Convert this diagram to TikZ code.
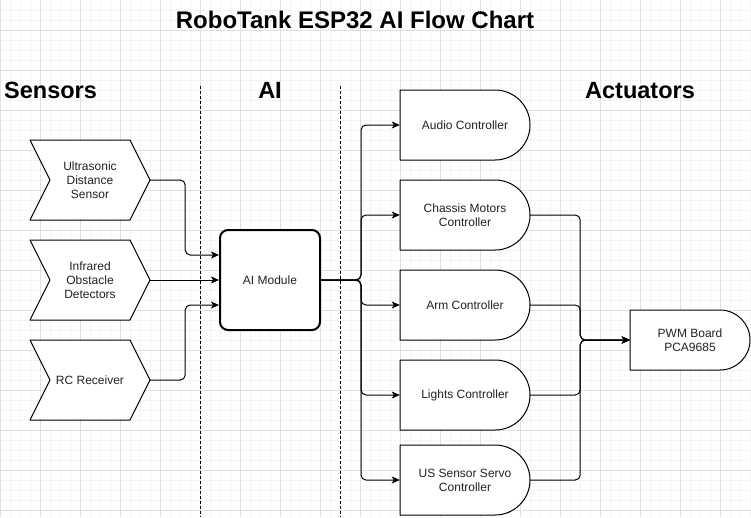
\documentclass[tikz,border=0pt]{standalone}
\usepackage{fontspec}
\setmainfont{Liberation Sans}
\usetikzlibrary{arrows.meta,calc}
\definecolor{gridminor}{HTML}{F4F4F4}
\definecolor{gridmajor}{HTML}{E0E0E0}
\definecolor{txtcol}{HTML}{222222}
\newcommand\dlybox[6]{%
  \pgfmathsetmacro\dXa{#2-#4/2}\pgfmathsetmacro\dXb{#2+#4/2}%
  \pgfmathsetmacro\dYa{#3-#5/2}\pgfmathsetmacro\dYb{#3+#5/2}%
  \pgfmathsetmacro\dRr{#5/2}%
  \pgfmathsetmacro\dXc{\dXb-\dRr}\pgfmathsetmacro\dXk{\dXc+0.5523*\dRr}%
  \pgfmathsetmacro\dYk{#3-0.5523*\dRr}\pgfmathsetmacro\dYl{#3+0.5523*\dRr}%
  \draw[outline] (\dXa,\dYa) -- (\dXc,\dYa) .. controls (\dXk,\dYa) and (\dXb,\dYk) .. (\dXb,#3) .. controls (\dXb,\dYl) and (\dXk,\dYb) .. (\dXc,\dYb) -- (\dXa,\dYb) -- cycle;
  \node[txt, minimum width=#4pt, minimum height=#5pt] (#1) at (#2,#3) {#6};
}
\newcommand\chevbox[6]{%
  \pgfmathsetmacro\cXa{#2-#4/2}\pgfmathsetmacro\cXb{#2+#4/2}%
  \pgfmathsetmacro\cYa{#3-#5/2}\pgfmathsetmacro\cYb{#3+#5/2}%
  \pgfmathsetmacro\cXc{\cXb-20}\pgfmathsetmacro\cXd{\cXa+20}%
  \draw[outline] (\cXa,\cYa) -- (\cXc,\cYa) -- (\cXb,#3) -- (\cXc,\cYb) -- (\cXa,\cYb) -- (\cXd,#3) -- cycle;
  \node[txt, minimum width=#4pt, minimum height=#5pt] (#1) at (#2,#3) {#6};
}
\begin{document}
\begin{tikzpicture}[x=1pt,y=-1pt,
  txt/.style={font=\fontsize{12}{14}\selectfont, text=txtcol, align=center, inner sep=0pt},
  head/.style={font=\fontsize{23.5}{28}\selectfont\bfseries, inner sep=0pt},
  outline/.style={draw=black, line width=1pt, fill=white, line join=round},
  conn/.style={line width=1pt, rounded corners=5pt, -{Stealth[length=8pt,width=7pt,inset=2pt]}},
  sep/.style={line width=1pt, dash pattern=on 3pt off 2pt},
]
\useasboundingbox (0,0) rectangle (751,517);
\fill[white] (0,0) rectangle (751,517);
% grid
\foreach \i in {10,20,...,750} \draw[gridminor, line width=1pt] (\i,0) -- (\i,517);
\foreach \j in {10,20,...,510} \draw[gridminor, line width=1pt] (0,\j) -- (751,\j);
\foreach \i in {0,40,...,720} \draw[gridmajor, line width=1pt] (\i,0) -- (\i,517);
\foreach \j in {30,70,...,510} \draw[gridmajor, line width=1pt] (0,\j) -- (751,\j);

% headings
\node[head, font=\fontsize{24}{28}\selectfont\bfseries, anchor=base] (title) at (355,28) {RoboTank ESP32 AI Flow Chart};
\node[head, anchor=base west] (hsens) at (4,98) {Sensors};
\node[head, anchor=base] (hai) at (270,98) {AI};
\node[head, anchor=base] (hact) at (640,98) {Actuators};

% separators
\draw[sep] (200,86) -- (200,517);
\draw[sep] (340,86) -- (340,517);

% sensors
\chevbox{us}{90}{180}{120}{80}{Ultrasonic\\Distance\\Sensor}
\chevbox{ir}{90}{280}{120}{80}{Infrared\\Obstacle\\Detectors}
\chevbox{rc}{90}{380}{120}{80}{RC Receiver}

% AI module
\node[txt, draw=black, line width=2pt, rounded corners=8pt, fill=white, minimum width=100pt, minimum height=100pt] (ai) at (270,280) {AI Module};

% actuators
\dlybox{audio}{465}{125}{130}{70}{Audio Controller}
\dlybox{chassis}{465}{215}{130}{70}{Chassis Motors\\Controller}
\dlybox{arm}{465}{305}{130}{70}{Arm Controller}
\dlybox{lights}{465}{395}{130}{70}{Lights Controller}
\dlybox{servo}{465}{480}{130}{70}{US Sensor Servo\\Controller}
\dlybox{pwm}{690}{340}{120}{60}{PWM Board\\PCA9685}

% connectors sensors -> AI
\draw[conn] (us.east) -- ++(35,0) |- ([yshift=25pt]ai.west);
\draw[conn] (ir.east) -- (ai.west);
\draw[conn] (rc.east) -- ++(35,0) |- ([yshift=-25pt]ai.west);

% AI -> actuators
\draw[conn] (ai.east) -- ++(40,0) |- (audio.west);
\draw[conn] (ai.east) -- ++(40,0) |- (chassis.west);
\draw[conn] (ai.east) -- ++(40,0) |- (arm.west);
\draw[conn] (ai.east) -- ++(40,0) |- (lights.west);
\draw[conn] (ai.east) -- ++(40,0) |- (servo.west);

% actuators -> PWM
\draw[conn] (chassis.east) -- ++(50,0) |- (pwm.west);
\draw[conn] (arm.east) -- ++(50,0) |- (pwm.west);
\draw[conn] (lights.east) -- ++(50,0) |- (pwm.west);
\draw[conn] (servo.east) -- ++(50,0) |- (pwm.west);
\end{tikzpicture}
\end{document}
